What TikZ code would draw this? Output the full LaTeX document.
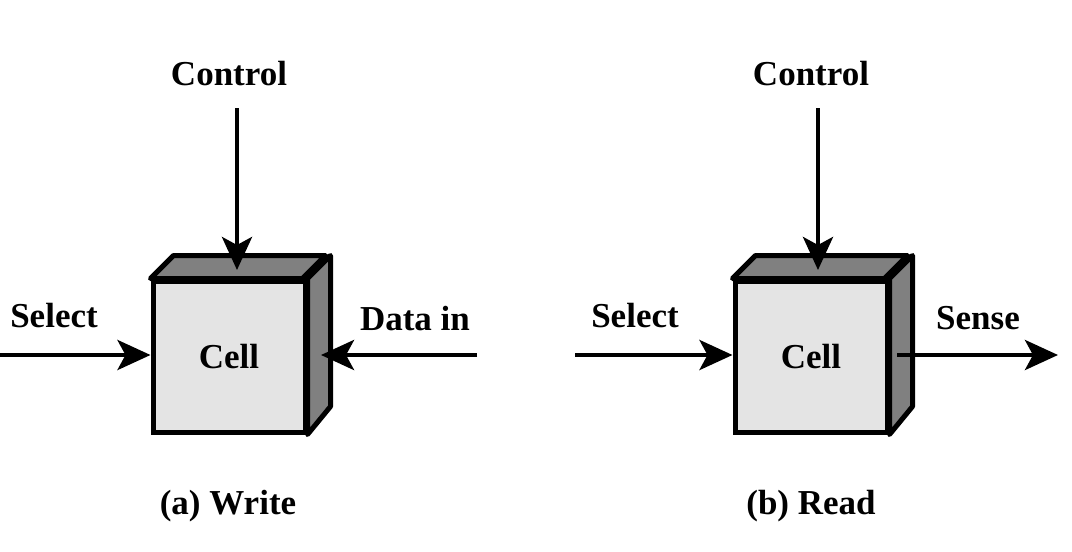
\documentclass[tikz,border=0pt]{standalone}
\usepackage{fontspec}
\setmainfont{Liberation Serif}
\usetikzlibrary{arrows.meta}
\definecolor{facelight}{HTML}{E4E4E4}
\definecolor{facedark}{HTML}{808080}
\tikzset{
  lbl/.style={font=\fontsize{35}{40}\selectfont\bfseries, inner sep=0pt, anchor=base},
  cellfront/.style={draw, line width=5pt, fill=facelight, minimum width=152pt, minimum height=151pt, inner sep=0pt, font=\fontsize{35}{40}\selectfont\bfseries},
  sideface/.style={draw, line width=5pt, fill=facedark, line join=round},
  conn/.style={line width=4.5pt, -{Stealth[length=33pt,width=30pt,inset=8pt]}}
}
\begin{document}
\begin{tikzpicture}[x=1pt,y=-1pt]
\useasboundingbox (0,0) rectangle (1072,552);
% ---------- (a) Write ----------
\node[cellfront] (wc) at (229,356.5) {};
\draw[sideface] (wc.north west) -- ++(23,-23) -- ++(152,0) -- ++(-23,23) -- cycle;
\draw[sideface] (wc.north east) -- ++(23,-23) -- ++(0,151) -- (wc.south east) -- cycle;
\node[cellfront] (wc) at (229,356.5) {Cell};
\node[lbl] (wctl) at (229,85) {Control};
\node[lbl] (wsel) at (54,327) {Select};
\node[lbl] (wdat) at (415,330) {Data in};
\node[lbl] (wcap) at (228,514) {(a) Write};
\coordinate (wctlS) at (237,108);
\coordinate (wctlE) at (237,270);
\coordinate (wselS) at (0,355);
\coordinate (wdatS) at (477,355);
\coordinate (wdatE) at (321,355);
\draw[conn] (wctlS) -- (wctlE);
\draw[conn] (wselS) -- (wselS -| wc.west);
\draw[conn] (wdatS) -- (wdatE);
% ---------- (b) Read ----------
\node[cellfront] (rc) at (811,356.5) {};
\draw[sideface] (rc.north west) -- ++(23,-23) -- ++(152,0) -- ++(-23,23) -- cycle;
\draw[sideface] (rc.north east) -- ++(23,-23) -- ++(0,151) -- (rc.south east) -- cycle;
\node[cellfront] (rc) at (811,356.5) {Cell};
\node[lbl] (rctl) at (811,85) {Control};
\node[lbl] (rsel) at (635,327) {Select};
\node[lbl] (rsen) at (978,329) {Sense};
\node[lbl] (rcap) at (811,514) {(b) Read};
\coordinate (rctlS) at (818,108);
\coordinate (rctlE) at (818,270);
\coordinate (rselS) at (575,355);
\coordinate (rsenS) at (897,355);
\coordinate (rsenE) at (1058,355);
\draw[conn] (rctlS) -- (rctlE);
\draw[conn] (rselS) -- (rselS -| rc.west);
\draw[conn] (rsenS) -- (rsenE);
\end{tikzpicture}
\end{document}
